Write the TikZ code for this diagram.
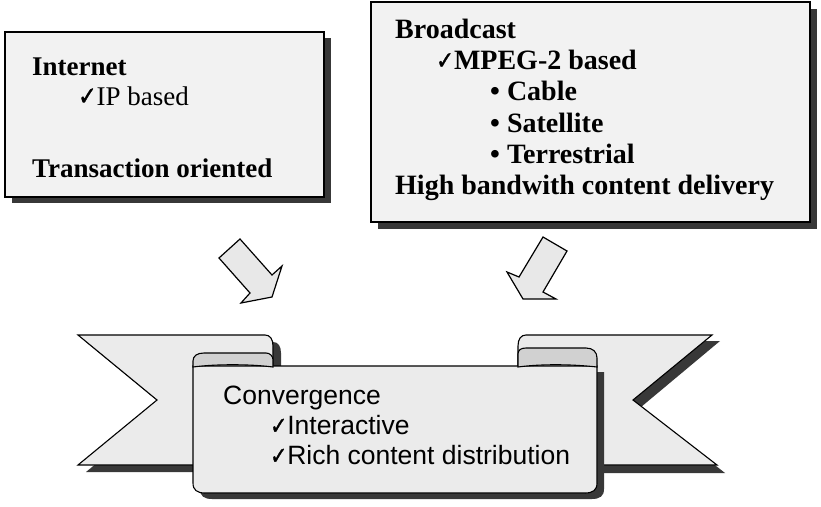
\documentclass[tikz,border=0pt]{standalone}
\usepackage{fontspec}
\setmainfont{Liberation Serif}
\newfontfamily\ribfont{Liberation Sans}
\newfontfamily\chkfont[FakeBold=1.5]{DejaVu Sans}
\newcommand{\chkmark}[1]{\scalebox{0.85}[1]{\chkfont\fontsize{#1}{#1}\selectfont ✓}}
\tikzset{
  shadowfill/.style={fill=black!78, draw=none},
  boxshape/.style={draw=black, line width=1.5pt, fill=black!5},
  ribshape/.style={fill=black!8, draw=black, line width=1.1pt, line join=miter},
  rollshape/.style={fill=black!18, draw=black, line width=1.1pt},
  blockarrow/.style={fill=black!9, draw=black, line width=1.2pt, line join=miter},
  seriftext/.style={anchor=base west, inner sep=0pt, font=\fontsize{27}{30}\selectfont},
  serifbold/.style={anchor=base west, inner sep=0pt, font=\fontsize{27}{30}\selectfont\bfseries},
  serifboldr/.style={anchor=base west, inner sep=0pt, font=\fontsize{28}{30}\selectfont\bfseries},
  sanstext/.style={anchor=base west, inner sep=0pt, font=\ribfont\fontsize{26.5}{30}\selectfont},
}
\begin{document}
\begin{tikzpicture}[x=1pt,y=-1pt]
\useasboundingbox (0,0) rectangle (821,506);
\fill[white] (0,0) rectangle (821,506);

% ---------- left box ----------
\fill[shadowfill] (12,38) rectangle (331,203);
\draw[boxshape] (5,32) rectangle (324,197);
\node[serifbold] (internet) at (32,75) {Internet};
\node[seriftext] (ipbased) at (78,105) {\chkmark{26}IP based};
\node[serifbold] (trans) at (32,177) {Transaction oriented};

% ---------- right box ----------
\fill[shadowfill] (378,9) rectangle (817,229);
\draw[boxshape] (371,2) rectangle (810,222);
\node[serifboldr] (broadcast) at (395,38) {Broadcast};
\node[serifboldr] (mpeg) at (436,69) {\chkmark{25}MPEG-2 based};
\node[serifboldr] (cable) at (490,100) {• Cable};
\node[serifboldr] (satellite) at (490,132) {• Satellite};
\node[serifboldr] (terrestrial) at (490,163) {• Terrestrial};
\node[serifboldr] (highbw) at (395,194) {High bandwith content delivery};

% ---------- block arrows ----------
\draw[blockarrow] (219,258) -- (240,239) -- (272,275) -- (282,266) -- (272,297) -- (241,303) -- (250,293) -- cycle;
\draw[blockarrow] (543,237) -- (567,251) -- (543,292) -- (556,299) -- (523,299) -- (507,272) -- (519,277) -- cycle;

% ---------- ribbon ----------
% shadows of tails
\fill[shadowfill] (86,342) -- (273,342) .. controls (278,342) and (281,346) .. (281,353) -- (281,472) -- (86,472) -- (165,407) -- cycle;
\fill[shadowfill] (720,341) -- (534,341) -- (526,352) -- (526,473) -- (725,473) -- (641,407) -- cycle;
% tails
\draw[ribshape] (78,335) -- (265,335) .. controls (270,335) and (273,339) .. (273,346) -- (273,465) -- (78,465) -- (157,400) -- cycle;
\draw[ribshape] (712,335) -- (526,335) .. controls (521,335) and (518,339) .. (518,346) -- (518,465) -- (717,465) -- (633,400) -- cycle;
% centre panel
\fill[shadowfill] (200,372) -- (200,489) .. controls (200,496) and (204,499) .. (212,499) -- (592,499) .. controls (600,499) and (604,496) .. (604,489) -- (604,372) -- cycle;
\draw[ribshape] (193,366) -- (193,483) .. controls (193,490) and (197,493) .. (205,493) -- (585,493) .. controls (593,493) and (597,490) .. (597,483) -- (597,366) -- cycle;
% rolls
\draw[rollshape] (193,367) -- (193,361) .. controls (193,356) and (197,353) .. (204,353) -- (266,353) .. controls (270,353) and (273,356) .. (273,360) -- (273,367) .. controls (250,364) and (215,364) .. (193,367) -- cycle;
\draw[rollshape] (518,367) -- (518,354) .. controls (518,350) and (521,348) .. (526,348) -- (586,348) .. controls (593,348) and (597,352) .. (597,358) -- (597,367) .. controls (570,364) and (540,364) .. (518,367) -- cycle;

\node[sanstext] (conv) at (223,404) {Convergence};
\node[sanstext] (interactive) at (270,434) {\chkmark{24}Interactive};
\node[sanstext] (rich) at (270,464) {\chkmark{24}Rich content distribution};
\end{tikzpicture}
\end{document}
